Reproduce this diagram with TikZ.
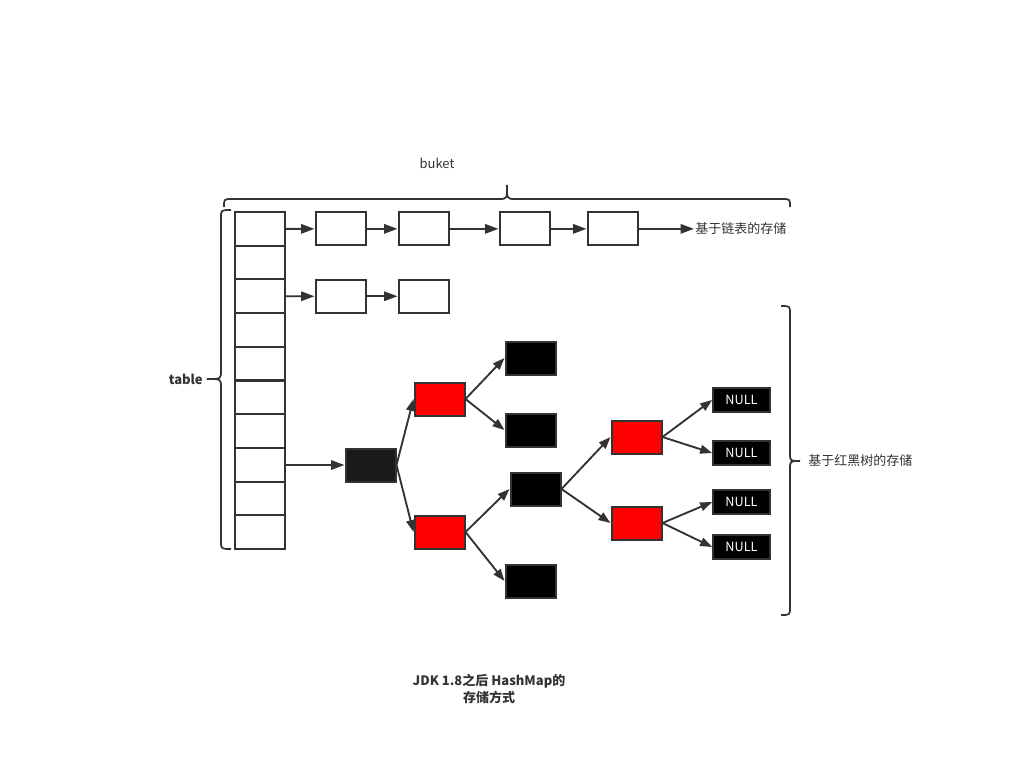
\documentclass[tikz,border=0pt]{standalone}
\usepackage{fontspec}
\setmainfont{Noto Sans CJK SC}
\usetikzlibrary{arrows.meta}
\definecolor{ink}{HTML}{333333}
\definecolor{rootblk}{HTML}{1A1A1A}
\begin{document}
\begin{tikzpicture}[x=0.75pt,y=-0.75pt,
  box/.style={draw=ink, line width=1.5pt, minimum width=37.5pt, minimum height=24.75pt, inner sep=0pt},
  cell/.style={box, minimum height=25.3pt},
  redn/.style={box, fill=red},
  blkn/.style={box, fill=black},
  nulln/.style={box, fill=black, minimum width=42.5pt, minimum height=17.5pt, text=white, font=\fontsize{9.5}{10}\selectfont},
  arr/.style={draw=ink, line width=1.4pt, -{Triangle[length=10pt,width=7pt]}},
  tarr/.style={draw=ink, line width=1.4pt, -{Triangle[length=9pt,width=6.5pt]}},
  brace/.style={draw=ink, line width=1.3pt},
  lbl/.style={text=ink, font=\fontsize{9.75}{11}\selectfont, inner sep=0pt}
]
\useasboundingbox (0,0) rectangle (1025,771);
% table cells
\foreach \i in {1,...,10} {
  \node[cell] (t\i) at (259.5,{212+33.7*(\i-0.5)}) {};
}
% linked list row 1
\node[box] (a1) at (340.5,228.85) {};
\node[box] (a2) at (423.5,228.85) {};
\node[box] (a3) at (524.5,228.85) {};
\node[box] (a4) at (612.5,228.85) {};
\coordinate (aend) at (694,228.85);
\node[lbl, anchor=west] (llabel) at (695,229) {基于链表的存储};
\draw[arr] (t1.east) -- (a1.west);
\draw[arr] (a1) -- (a2);
\draw[arr] (a2) -- (a3);
\draw[arr] (a3) -- (a4);
\draw[arr] (a4.east) -- (aend);
% linked list row 3
\node[box] (b1) at (340.5,296.25) {};
\node[box] (b2) at (423.5,296.25) {};
\draw[arr] (t3.east) -- (b1.west);
\draw[arr] (b1) -- (b2);
% tree
\node[box, fill=rootblk] (r) at (370.5,465) {};
\draw[arr] (t8.east |- r.west) -- (r.west);
\node[redn] (r1) at (439.5,399) {};
\node[redn] (r2) at (439.5,532) {};
\node[blkn] (k1) at (530.5,358) {};
\node[blkn] (k2) at (530.5,430) {};
\node[blkn] (k3) at (535.5,489) {};
\node[blkn] (k4) at (530.5,581) {};
\node[redn] (r3) at (636.5,437) {};
\node[redn] (r4) at (636.5,523) {};
\node[nulln] (n1) at (741.5,400) {NULL};
\node[nulln] (n2) at (741.5,453) {NULL};
\node[nulln] (n3) at (741.5,502) {NULL};
\node[nulln] (n4) at (741.5,547) {NULL};
\draw[tarr] (r.east) -- (r1.west);
\draw[tarr] (r.east) -- (r2.west);
\draw[tarr] (r1.east) -- (k1.west);
\draw[tarr] (r1.east) -- (k2.west);
\draw[tarr] (r2.east) -- (k3.west);
\draw[tarr] (r2.east) -- (k4.west);
\draw[tarr] (k3.east) -- (r3.west);
\draw[tarr] (k3.east) -- (r4.west);
\draw[tarr] (r3.east) -- (n1.west);
\draw[tarr] (r3.east) -- (n2.west);
\draw[tarr] (r4.east) -- (n3.west);
\draw[tarr] (r4.east) -- (n4.west);
% top brace
\draw[brace] (224,207) .. controls (224,199) .. (232,199) -- (499,199)
  .. controls (507,199) .. (507,185) .. controls (507,199) .. (515,199) -- (782,199)
  .. controls (790,199) .. (790,207);
\node[lbl] (buket) at (437,163) {buket};
% left brace
\draw[brace] (231,210) .. controls (221,210) .. (221,218) -- (221,371)
  .. controls (221,379) .. (207,379) .. controls (221,379) .. (221,387) -- (221,541)
  .. controls (221,549) .. (231,549);
\node[lbl, font=\fontsize{9.75}{11}\selectfont\bfseries, anchor=east] (tbl) at (203,379) {table};
% right brace
\draw[brace] (781,306) .. controls (790,306) .. (790,314) -- (790,453)
  .. controls (790,461) .. (800,461) .. controls (790,461) .. (790,469) -- (790,607)
  .. controls (790,615) .. (781,615);
\node[lbl, anchor=west] (rlabel) at (808,461) {基于红黑树的存储};
% caption
\node[lbl, font=\fontsize{9.75}{12.5}\selectfont\bfseries, align=center] (cap) at (489,689) {JDK 1.8之后 HashMap的\\存储方式};
\end{tikzpicture}
\end{document}
